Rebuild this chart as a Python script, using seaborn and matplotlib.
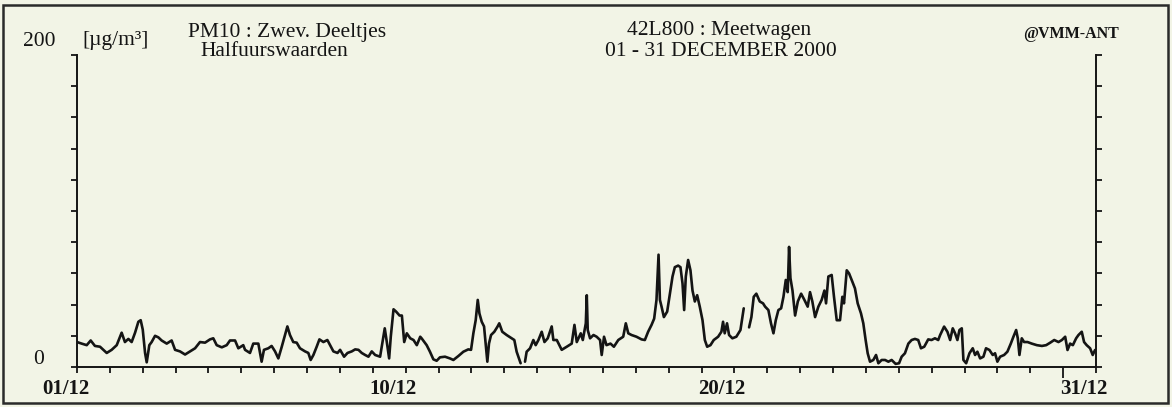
import numpy as np
import pandas as pd
import matplotlib
matplotlib.use("Agg")
import matplotlib.pyplot as plt
import seaborn as sns
from matplotlib.patches import Rectangle
from matplotlib.transforms import ScaledTranslation

# ---- data (hours since 01/12/2000 00:00, PM10 in ug/m3) ----
hours = [
    0, 3.4, 7.1, 10, 13.1, 16.8, 19.2, 21.7, 25.3, 29, 32.6, 35, 37.5, 39.9, 42.4, 44.8, 46.5, 48, 49.7, 50.9,
    52.8, 54.5, 57, 59.4, 61.8, 65.5, 69.1, 71.6, 75.2, 78.9, 82.5, 86.2, 89.8, 93.5, 97.1, 99.5, 102, 105.7,
    109.3, 111.7, 115.4, 117.8, 121.4,
    122.7, 126.3, 128.7, 132.4, 134.8, 136.5, 139.7, 142.1, 144.6, 147, 149.5, 151.9, 153.6, 155.5, 157.9,
    160.4, 162.8, 166.5, 168.9, 170.6, 172.6, 175, 177, 179.9, 182.8, 184.8, 187.2, 190.2, 192.1, 195, 197.5,
    200.6, 203.1, 205.5, 207.9, 210.4, 212.8, 215.2, 217.7, 221.3, 223.3, 224.7, 226.2, 227.9, 229.1, 231.1,
    233, 235.5, 237.2, 238.9, 240.8, 243.3, 245.7, 248.1, 250.6,
    251.6, 255.3, 257.7, 260.2, 262.6, 265, 268.7, 272.3, 274.8, 278.4, 282.1, 285.7, 287.7, 289.4, 291.1,
    292.6, 293.8, 295.5, 297.2, 298.6, 299.6, 300.8, 302.3, 304.7, 307.1, 308.3, 310.5, 313.7, 317.3, 319.3,
    321, 322.7, 323.9,
    327.1, 328.3, 330.8, 333.2, 334.9, 336.9, 339.3, 341.3, 343.7, 346.6, 347.8, 350.3, 353.9, 357.6, 361.2,
    363.2, 364.9, 367.8, 369.3, 371.5, 372.2, 372.9, 374.6, 377.1,
    379.4, 381.9, 383.1, 384.8, 386.6, 389.5, 392, 395.2, 398.8, 400.7, 402.5, 404.9, 408.5, 412.2, 414.6,
    417, 419.5, 421.4, 423.1, 424.6, 425.6, 426.8, 428.5, 430.9, 432.9, 434.8, 436.5, 438.9, 440.6, 442.1,
    443.3, 444.5, 446.2, 447.9, 449.4, 451.1, 452.8, 454.7, 456.7, 458.4, 460.1, 462.5, 464.9, 468.1, 470.5,
    471.7, 472.9, 474.6, 476.1, 478.5, 481.4, 484.4, 486.8,
    490.7, 492.4, 494.1, 496, 498.5, 500.9,
    502.4, 504.8, 506.7, 508.5, 510.2, 512.1, 514.1, 515.8, 517.5, 518.9, 519.9, 520.9, 522.4, 524.3, 526.3,
    528.7, 531.1, 533.5, 535.2, 536.9, 538.9, 541.3, 543.7, 545.7, 546.9, 548.6, 551, 552.7, 554.7, 557.1,
    558.8, 560, 562, 563.7, 566.1, 568, 570, 572.4, 574.1, 575.8, 577.3, 579, 581.4, 583.4, 585.1, 587.5,
    590, 592.4, 594.8, 597.7, 600.2, 602.1, 604.5, 607, 609.4, 611.8, 614.2, 616.2, 618.6, 621.5, 623.9,
    626.4, 628.8,
    630.2, 633.1, 635.5, 637.5, 639.4, 641.1, 642.8, 644.3, 646, 647.2, 649.2, 651.6, 654, 655.7, 657.4,
    659.4, 661.8, 663.7, 666.2, 668.6, 670.3, 672, 674, 676.9, 679.3, 681.8, 683.7, 685.7, 686.9, 688.1,
    689.8, 691.5, 694, 697.1, 700.8, 704.5, 707.6, 710.6, 713.5, 716.6, 719.1, 721.5, 723.2, 725.1, 727.1,
    729.5, 731.2, 733.6, 735.3, 737.2, 739.7, 741.6, 743.3,
]
pm10 = [
    16, 15, 14, 17, 13.5, 13, 11, 9, 11, 14, 22, 16, 18, 16, 22, 29, 30, 24, 9, 3,
    14, 16, 20, 19, 17, 15, 17, 11, 10, 8, 10, 12, 16, 15.6, 17.7, 18.4, 14, 12.6,
    14, 17, 17, 12, 14,
    11, 9, 15, 15, 3.4, 11, 12, 13.5, 10, 5.5, 13, 20.5, 26, 20.5, 16,
    15.6, 12, 10, 9, 4.5, 7.7, 13, 17.7, 16, 17.3, 14, 10, 9, 11, 6.6, 9,
    10, 11.3, 11, 9, 7.7, 6.6, 10, 7.7, 6.6, 17.3, 24.8, 16, 5.5, 19.4, 37,
    35.5, 33, 33, 16, 21.6, 18.4, 17.3, 14, 19.4,
    18.4, 14, 9.8, 4.9, 4, 6.2, 6.6, 5.5, 4.5, 7, 9.8, 11.3, 11, 21.6, 30,
    43, 34.4, 29, 26, 13, 3.4, 15, 20.5, 22.6, 26, 28, 22.6, 20.5, 18.4, 17.3,
    9.8, 5.5, 2.4,
    3.4, 9.8, 12, 17.3, 14, 17.3, 22.6, 16, 18.4, 26, 17.3, 17.3, 11, 13, 15,
    27, 16, 21.6, 17.3, 28, 46, 23.7, 18.4, 20.5,
    19.4, 17.3, 7.7, 19.4, 14, 15, 13, 17.3, 19.4, 28, 21.6, 20.5, 19.4, 17.7, 17.3,
    22.6, 27, 31, 43, 72, 43, 38.7, 32, 35.5, 47, 58, 64, 65, 64, 53.6,
    36.5, 58, 68.6, 62, 49, 42, 46, 38.7, 30, 17.3, 13, 14, 17.3, 19.4, 22.6,
    29, 21.6, 28, 20.5, 18.4, 19.4, 23.7, 37.6,
    25.4, 32, 45, 47, 42, 40.8,
    38.7, 36.5, 28, 21.6, 30, 36.5, 37.6, 45, 55.8, 48, 77, 57, 49, 33, 42,
    47, 43, 38.7, 48, 42, 32, 38.7, 43, 49, 40.8, 58, 59, 45, 30, 30,
    45, 40.8, 62, 60, 54.7, 50.4, 40.8, 34.4, 28, 17.3, 8.8, 3.4, 4.5, 7.7, 2.4, 4.5,
    4.5, 3.4, 4.5, 2, 2.4, 6.6, 8.8, 15, 17.3, 18, 17.3, 12, 13, 17.7, 17.3,
    18.4, 17.3,
    20.5, 25.9, 22.6, 17.3, 24.8, 21.6, 17.3, 23.7, 24.8, 4.5, 2.4, 8.8, 12, 7.7, 9.8,
    5.5, 6.6, 12, 10.9, 7.7, 8.8, 3.4, 6.6, 7.7, 9.8, 15, 19.4, 23.7, 18.4, 7.7,
    18.4, 16, 16, 15, 14, 13.5, 14, 15.6, 17.3, 16, 17.3, 19.4, 10.9, 15, 14,
    18.4, 20.5, 22.6, 16, 14, 12, 7.7, 10.9,
]
gap_hours = [325.5, 488.7]          # missing-data gaps in the record
day_labels = {0: "01/12", 9: "10/12", 19: "20/12", 30: "31/12"}

df = pd.DataFrame({"day": np.array(hours) / 24.0, "pm10": pm10})
df["segment"] = np.searchsorted(gap_hours, np.array(hours))

# ---- style ----
sns.set_style("ticks")
paper = "#f2f4e6"
ink = "#141414"
plt.rcParams["font.family"] = ["Liberation Serif", "DejaVu Serif"]

W, H = 1172, 407
fig = plt.figure(figsize=(W / 100, H / 100), dpi=100, facecolor=paper)
ax = fig.add_axes([77 / W, 1 - 367 / H, (1096 - 77) / W, (367 - 55) / H])
ax.set_facecolor(paper)

sns.lineplot(data=df, x="day", y="pm10", units="segment", estimator=None,
             color=ink, linewidth=1.9, ax=ax, legend=False, sort=False)

ax.set_xlim(0, 31)
ax.set_ylim(0, 200)
ax.set_xlabel("")
ax.set_ylabel("")

# spines
for s in ["left", "right", "bottom"]:
    ax.spines[s].set_visible(True)
    ax.spines[s].set_color(ink)
    ax.spines[s].set_linewidth(1.4)
ax.spines["top"].set_visible(False)

# y ticks every 20, both sides, outward, no labels
ax.set_yticks(np.arange(0, 201, 20))
ax.tick_params(axis="y", which="both", left=True, right=True, labelleft=False,
               labelright=False, direction="out", length=4, width=1.3, color=ink)

# x ticks every day
days = np.arange(0, 32)
ax.set_xticks(days)
ax.set_xticklabels([day_labels.get(int(d), "") for d in days])
ax.tick_params(axis="x", direction="out", length=4.5, width=1.3, color=ink,
               pad=4, labelsize=15, labelcolor=ink)
for lab in ax.get_xticklabels():
    lab.set_fontweight("bold")
    if lab.get_text() == "01/12":
        lab.set_ha("center")
        lab.set_transform(lab.get_transform() + ScaledTranslation(-11 / 100, 0, fig.dpi_scale_trans))
    elif lab.get_text():
        lab.set_ha("left")
        lab.set_transform(lab.get_transform() + ScaledTranslation(-3 / 100, 0, fig.dpi_scale_trans))
# longer tick at 31/12
ax.xaxis.get_major_ticks()[30].tick1line.set_markersize(8)

# y value labels
fs = 15.5
fig.text(39 / W, 1 - 41 / H, "200", ha="center", va="center", fontsize=fs, color=ink)
fig.text(39 / W, 1 - 360 / H, "0", ha="center", va="center", fontsize=fs, color=ink)
fig.text(82 / W, 1 - 41 / H, "[µg/m³]", ha="left", va="center", fontsize=fs, color=ink)

# header texts
fig.text(188 / W, 1 - 32 / H, "PM10 : Zwev. Deeltjes", ha="left", va="center", fontsize=fs, color=ink)
fig.text(200 / W, 1 - 52 / H, "Halfuurswaarden", ha="left", va="center", fontsize=fs, color=ink)
fig.text(719 / W, 1 - 31 / H, "42L800 : Meetwagen", ha="center", va="center", fontsize=fs, color=ink)
fig.text(721 / W, 1 - 51 / H, "01 - 31 DECEMBER 2000", ha="center", va="center", fontsize=fs, color=ink)
fig.text(1071 / W, 1 - 34 / H, "@VMM-ANT", ha="center", va="center", fontsize=11.5,
         fontweight="bold", color=ink)

# frame around the whole sheet
fig.add_artist(Rectangle((3 / W, 4 / H), 1165 / W, 398 / H, transform=fig.transFigure,
                         fill=False, edgecolor="#2a2a2a", linewidth=1.8))

fig.savefig("out.png", dpi=100, facecolor=paper)
